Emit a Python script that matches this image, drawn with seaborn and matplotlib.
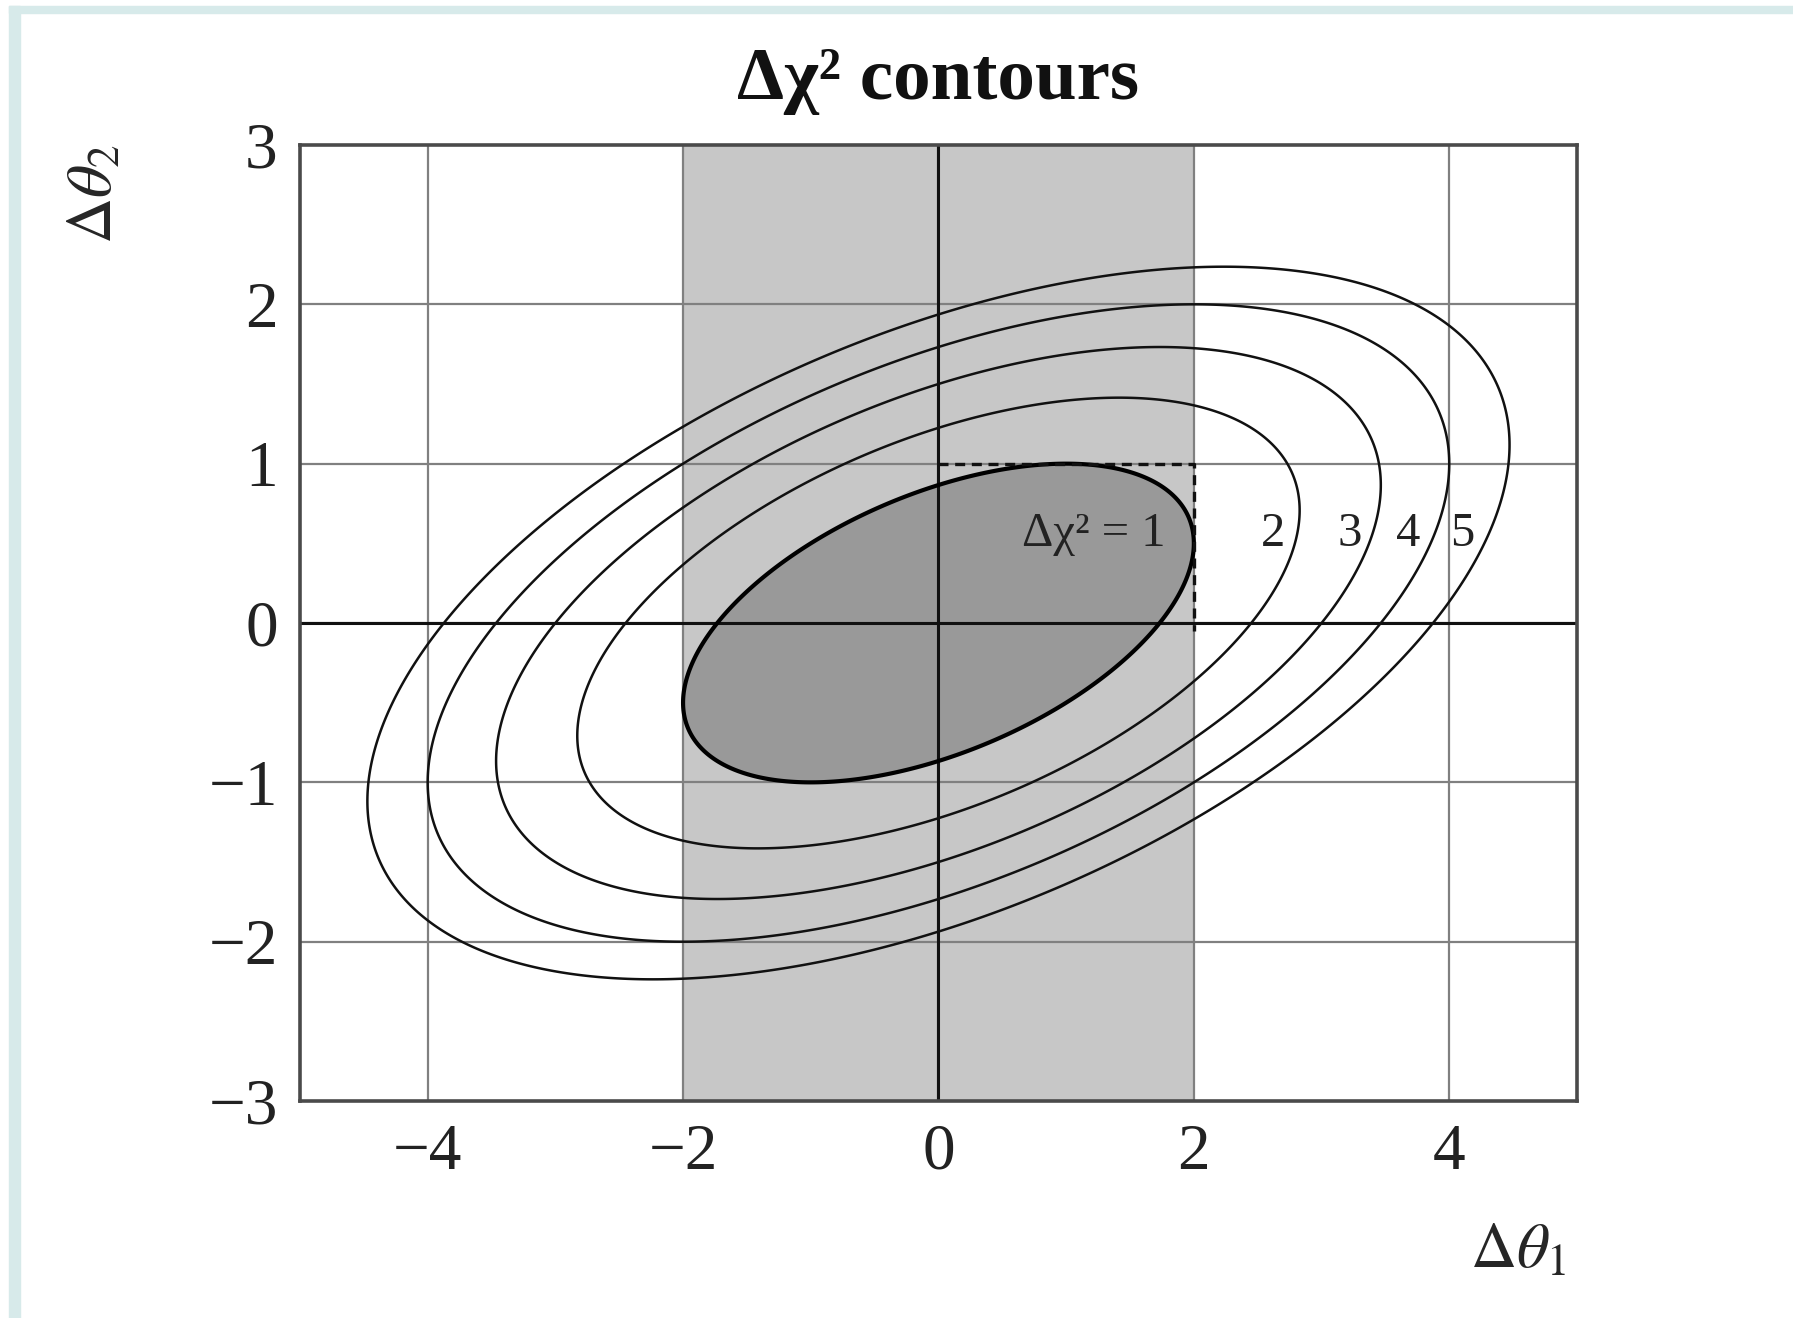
import numpy as np
import pandas as pd
import matplotlib
matplotlib.use("Agg")
import matplotlib.pyplot as plt
from matplotlib.patches import Rectangle
import seaborn as sns

# ---- data ----
sigma1 = 2.0          # half-width of the Δχ²=1 box along Δθ1
sigma2 = 1.0          # half-height along Δθ2
rho = 0.5             # correlation (tangent point at y=0.5 for x=2)
levels = [1, 2, 3, 4, 5]
label_text = ["Δχ² = 1", "2", "3", "4", "5"]
label_x = [1.22, 2.62, 3.22, 3.68, 4.1]
label_y = [0.56, 0.56, 0.56, 0.56, 0.56]
band_x = [-2, 2]
box_x = [0, 2, 2]
box_y = [1, 1, -0.05]
xticks = [-4, -2, 0, 2, 4]
yticks = [-3, -2, -1, 0, 1, 2, 3]
xlim = [-5, 5]
ylim = [-3, 3]

sns.set_theme(style="white")
plt.rcParams['font.family'] = ['Liberation Serif', 'DejaVu Serif']
plt.rcParams['mathtext.fontset'] = 'stix'
plt.rcParams['axes.unicode_minus'] = True

fig = plt.figure(figsize=(17.93, 13.18), dpi=100)
ax = fig.add_axes([0.1673, 0.1646, 0.7122, 0.7254])

# quadratic form Δχ²
cov = np.array([[sigma1**2, rho*sigma1*sigma2], [rho*sigma1*sigma2, sigma2**2]])
inv = np.linalg.inv(cov)
gx = np.linspace(xlim[0], xlim[1], 801)
gy = np.linspace(ylim[0], ylim[1], 601)
X, Y = np.meshgrid(gx, gy)
Z = inv[0, 0]*X**2 + 2*inv[0, 1]*X*Y + inv[1, 1]*Y**2

ax.axvspan(band_x[0], band_x[1], color="#c7c7c7", zorder=0, lw=0)
ax.contourf(X, Y, Z, levels=[0, levels[0]], colors=["#999999"], zorder=1)

for v in xticks:
    ax.axvline(v, color="#808080", lw=1.6, zorder=2)
for v in yticks[1:-1]:
    ax.axhline(v, color="#808080", lw=1.6, zorder=2)
ax.axvline(0, color="#111111", lw=2.2, zorder=3)
ax.axhline(0, color="#111111", lw=2.2, zorder=3)

ax.contour(X, Y, Z, levels=levels[1:], colors="#111111", linewidths=1.8, zorder=4)
ax.contour(X, Y, Z, levels=[levels[0]], colors="#000000", linewidths=3.0, zorder=5)

box = pd.DataFrame({"x": box_x, "y": box_y})
sns.lineplot(data=box, x="x", y="y", sort=False, estimator=None, ax=ax,
             color="#111111", lw=2.4, linestyle=(0, (3, 2)), zorder=6)

for t, x, y in zip(label_text, label_x, label_y):
    ax.text(x, y, t, fontsize=35, ha="center", va="center", color="#222222", zorder=7)

ax.set_xlim(xlim)
ax.set_ylim(ylim)
ax.set_xticks(xticks)
ax.set_yticks(yticks)
ax.tick_params(axis="both", labelsize=47, length=0, colors="#222222")
ax.tick_params(axis="x", pad=16)
ax.tick_params(axis="y", pad=16)
for s in ax.spines.values():
    s.set_color("#4a4a4a")
    s.set_linewidth(2.6)
    s.set_zorder(8)

ax.set_title("Δχ² contours", fontsize=54, fontweight="bold", pad=33, color="#111111")
ax.set_xlabel(r"$\Delta\theta_1$", fontsize=46, va="center")
ax.xaxis.set_label_coords(0.954, -0.158)
ax.set_ylabel(r"$\Delta\theta_2$", fontsize=46, va="center")
ax.yaxis.set_label_coords(-0.159, 0.949)

# light teal frame of the original picture
fig.patches.append(Rectangle((9/1793, 1 - 13/1318), 1, 7/1318, transform=fig.transFigure,
                             color="#d7eaea", zorder=0))
fig.patches.append(Rectangle((9/1793, 0), 11/1793, 1 - 6/1318, transform=fig.transFigure,
                             color="#d7eaea", zorder=0))

fig.savefig("out.png", dpi=100, facecolor="white")
